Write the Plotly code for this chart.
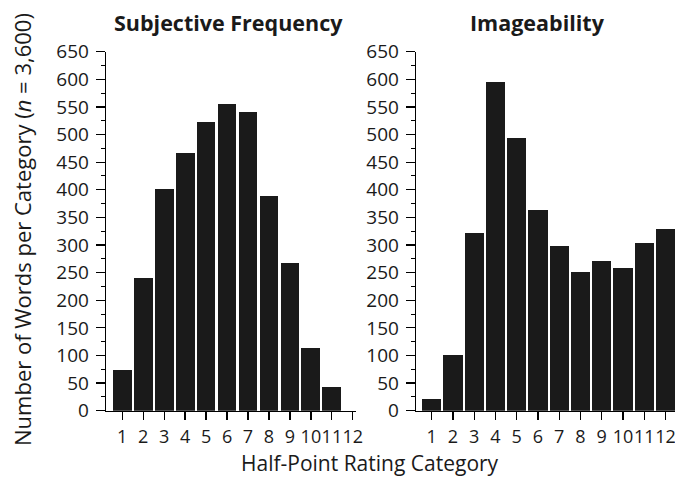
import plotly.graph_objects as go

categories = list(range(1, 13))
tick_labels = [str(c) for c in categories]
subjective_frequency = [73, 240, 402, 466, 523, 555, 540, 388, 267, 114, 43, 0]
imageability = [22, 101, 322, 596, 494, 364, 299, 251, 271, 259, 304, 329]
panel_titles = ["Subjective Frequency", "Imageability"]
y_title = "Number of Words per Category (<i>n</i> = 3,600)"
x_title = "Half-Point Rating Category"

W, H = 675, 477
FONT = "Open Sans"
TXT = "#1a1a1a"
BAR = "#1a1a1a"

def px(x):
    return x / W

def py(y):
    return 1 - y / H

fig = go.Figure()
fig.add_trace(go.Bar(x=categories, y=subjective_frequency, width=0.9,
                     marker=dict(color=BAR, line=dict(width=0)),
                     xaxis="x", yaxis="y", showlegend=False))
fig.add_trace(go.Bar(x=categories, y=imageability, width=0.9,
                     marker=dict(color=BAR, line=dict(width=0)),
                     xaxis="x2", yaxis="y2", showlegend=False))

ydom = [py(410.7), py(51.7)]
yax = dict(range=[0, 650], domain=ydom, tickmode="array", automargin=False,
           tickvals=list(range(0, 651, 50)), ticks="outside", ticklen=9,
           tickwidth=1.2, tickcolor="black", showline=True, linecolor="black",
           linewidth=1.3, showgrid=False, zeroline=False,
           tickfont=dict(family=FONT, size=19, color=TXT),
           ticklabelstandoff=3,
           minor=dict(dtick=25, tick0=0, ticks="outside", ticklen=4,
                      tickwidth=1.0, tickcolor="black", showgrid=False))
xax = dict(tickmode="array", tickvals=categories, ticktext=tick_labels,
           tickangle=0, automargin=False, ticklabeloverflow="allow",
           ticks="outside", ticklen=8, tickwidth=1.2, tickcolor="black",
           showline=True, linecolor="black", linewidth=1.3, showgrid=False,
           zeroline=False, tickfont=dict(family=FONT, size=18, color=TXT),
           ticklabelstandoff=1)

fig.update_layout(
    template="none",
    width=W, height=H, autosize=False,
    margin=dict(l=0, r=0, t=0, b=0, pad=0),
    paper_bgcolor="white", plot_bgcolor="white",
    bargap=0,
    xaxis=dict(xax, domain=[px(106), px(356)], range=[0.23, 12.15], anchor="y"),
    yaxis=dict(yax, anchor="x"),
    xaxis2=dict(xax, domain=[px(416), px(675)], range=[0.26, 12.45], anchor="y2"),
    yaxis2=dict(yax, anchor="x2"),
    annotations=[
        dict(text="<b>" + panel_titles[0] + "</b>", x=px(228), y=py(23),
             xref="paper", yref="paper", showarrow=False,
             font=dict(family=FONT, size=21.5, color=TXT), xanchor="center", yanchor="middle"),
        dict(text="<b>" + panel_titles[1] + "</b>", x=px(537), y=py(23),
             xref="paper", yref="paper", showarrow=False,
             font=dict(family=FONT, size=21.5, color=TXT), xanchor="center", yanchor="middle"),
        dict(text=y_title, x=px(22), y=py(230), textangle=-90,
             xref="paper", yref="paper", showarrow=False,
             font=dict(family=FONT, size=22, color=TXT), xanchor="center", yanchor="middle"),
        dict(text=x_title, x=px(370), y=py(463),
             xref="paper", yref="paper", showarrow=False,
             font=dict(family=FONT, size=21, color=TXT), xanchor="center", yanchor="middle"),
    ],
)

fig.write_html(
    "out.html",
    config={"displayModeBar": False, "staticPlot": True},
    post_script="document.documentElement.style.margin='0';"
                "document.documentElement.style.overflow='hidden';"
                "document.body.style.margin='0';"
                "document.body.style.overflow='hidden';",
)
